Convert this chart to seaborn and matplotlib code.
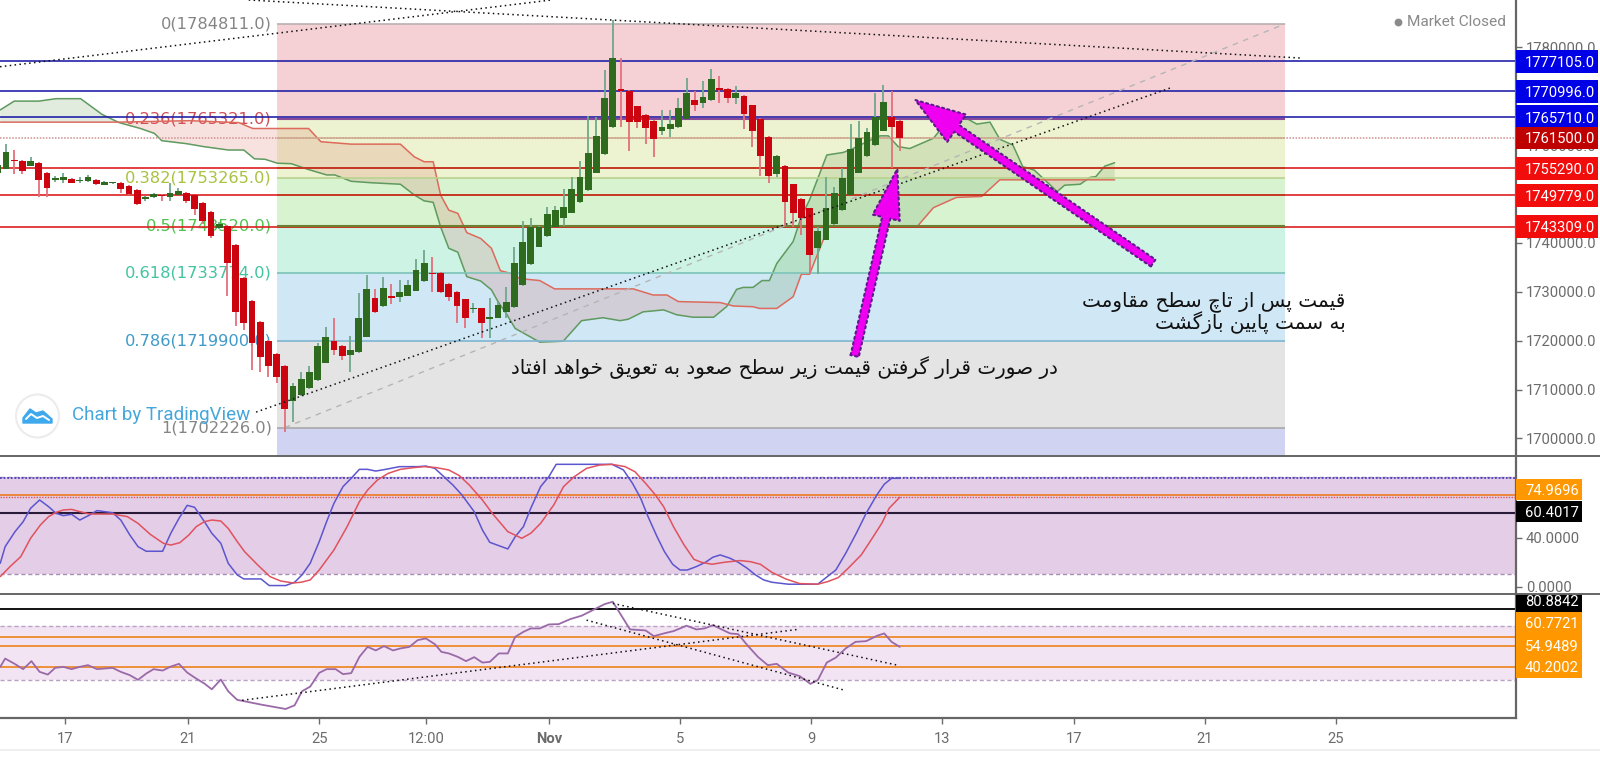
import numpy as np
import pandas as pd
import matplotlib
matplotlib.use("Agg")
import matplotlib.pyplot as plt
import seaborn as sns
from matplotlib.patches import Rectangle, Circle, FancyArrowPatch, Polygon
from matplotlib.transforms import blended_transform_factory

# candles, thousands of price units, index -1 .. 109
candle_idx = list(range(-1, 110))
opens = [1754.4,1755.2,1757.0,1756.8,1755.8,1756.3,1754.4,1752.8,1752.9,1753.1,1752.7,1752.7,1752.9,1751.9,1752.2,1752.3,1751.7,1750.8,1749.0,1749.3,
         1749.7,1749.4,1749.9,1750.3,1749.7,1748.2,1746.3,1743.0,1743.5,1739.6,1732.8,1728.2,1723.9,1720.0,1717.3,1714.9,1707.6,1708.8,1710.3,1712.0,
         1715.5,1720.0,1719.0,1717.1,1717.6,1720.8,1728.8,1727.1,1729.1,1729.0,1729.2,1730.2,1732.2,1733.9,1733.9,1731.6,1730.0,1728.5,1726.4,1726.6,
         1724.4,1724.7,1725.9,1726.8,1731.4,1735.7,1739.2,1741.4,1743.3,1745.1,1746.2,1748.4,1750.8,1754.4,1758.1,1763.8,1771.4,1771.1,1767.9,1766.2,
         1765.0,1762.9,1763.3,1763.8,1765.4,1769.3,1768.7,1769.2,1771.75,1771.4,1769.7,1770.1,1768.2,1765.3,1761.7,1754.1,1755.8,1752.0,1749.0,1747.1,
         1738.9,1740.6,1743.8,1746.7,1749.9,1754.4,1757.8,1760.0,1762.96,1765.7,1765.0]
highs = [1756.3,1760.2,1759.0,1757.0,1757.5,1756.6,1754.6,1753.7,1754.4,1753.2,1753.5,1753.9,1753.1,1752.7,1752.5,1752.4,1751.8,1750.96,1749.6,1750.3,
         1750.1,1752.2,1751.3,1750.5,1749.8,1748.4,1746.5,1744.3,1743.7,1739.7,1732.96,1728.3,1724.0,1720.2,1717.4,1715.0,1711.3,1713.7,1714.8,1719.5,
         1722.9,1724.6,1719.1,1721.0,1729.8,1733.4,1730.5,1732.96,1731.6,1732.5,1732.5,1736.8,1738.5,1737.1,1734.1,1731.7,1730.2,1728.6,1727.8,1726.7,
         1728.7,1728.0,1730.9,1739.1,1744.5,1745.0,1743.5,1747.4,1747.5,1750.96,1753.55,1756.75,1766.0,1765.7,1775.4,1785.6,1777.75,1771.3,1768.0,1766.4,
         1765.1,1767.2,1767.2,1769.7,1773.8,1771.1,1773.2,1775.6,1774.1,1771.6,1772.1,1770.25,1768.3,1765.5,1761.9,1757.9,1755.9,1752.1,1749.1,1747.2,
         1743.2,1753.55,1751.5,1755.4,1764.25,1765.0,1763.6,1770.7,1772.2,1771.1,1765.1]
lows = [1754.2,1755.2,1754.1,1754.1,1755.7,1749.3,1749.3,1752.5,1752.3,1752.2,1752.2,1752.5,1751.9,1751.8,1752.0,1750.3,1749.9,1747.8,1748.6,1749.2,
        1748.6,1748.6,1749.7,1748.2,1745.7,1743.9,1741.1,1742.8,1729.1,1723.0,1722.2,1714.0,1713.7,1712.6,1711.3,1701.4,1703.4,1708.7,1710.2,1711.8,
        1715.4,1717.1,1716.1,1713.5,1717.4,1720.7,1725.6,1726.97,1727.5,1727.9,1729.1,1730.1,1732.1,1730.0,1729.8,1728.2,1723.7,1722.5,1725.6,1720.5,
        1720.5,1724.6,1724.6,1726.6,1731.2,1735.5,1739.1,1741.3,1743.3,1743.5,1746.05,1748.2,1750.7,1754.2,1758.0,1763.6,1763.8,1758.7,1763.6,1760.2,
        1757.6,1762.1,1761.6,1763.6,1765.3,1767.05,1767.5,1769.1,1768.7,1768.7,1768.4,1763.2,1759.7,1753.7,1752.2,1753.4,1743.5,1743.3,1741.6,1733.6,
        1733.6,1740.5,1743.7,1746.6,1749.7,1754.2,1757.6,1759.9,1762.8,1755.25,1758.7]
closes = [1755.9,1758.5,1756.7,1754.7,1756.8,1752.8,1751.2,1753.2,1753.5,1752.3,1752.9,1753.5,1752.1,1752.5,1752.4,1751.0,1750.1,1748.0,1749.3,1750.1,
          1749.5,1750.3,1750.6,1748.5,1746.9,1744.5,1741.4,1743.9,1735.8,1725.9,1723.7,1719.6,1716.6,1714.8,1712.5,1706.1,1710.7,1712.1,1713.5,1718.9,
          1720.7,1718.1,1716.9,1718.1,1724.6,1730.5,1725.8,1730.7,1728.8,1729.9,1731.3,1734.5,1735.8,1733.6,1730.0,1728.9,1727.0,1724.7,1726.6,1723.7,
          1724.9,1727.4,1728.0,1735.8,1740.1,1743.3,1743.3,1746.0,1746.7,1747.3,1751.0,1753.5,1758.3,1761.9,1769.7,1777.8,1771.0,1764.7,1764.7,1763.6,
          1761.25,1763.7,1764.25,1767.5,1770.7,1768.2,1769.9,1773.45,1771.3,1769.6,1770.7,1766.3,1762.9,1757.8,1753.7,1757.8,1748.4,1746.05,1745.0,1737.5,
          1742.4,1747.2,1750.2,1753.2,1759.3,1761.5,1762.7,1765.8,1768.8,1763.8,1761.5]

# ichimoku cloud edges
span_a_idx = [-0.7,1.0,4.0,6.1,9.1,11.7,13.8,16.4,18.1,19.0,22.0,24.1,27.1,29.0,30.3,31.6,33.1,34.8,36.9,39.1,40.1,42.1,44.6,48.1,49.8,51.0,52.1,53.0,54.0,55.1,56.2,57.9,59.2,60.0,61.1,62.1,65.1,67.96,70.2,72.8,74.9,75.9,77.7,80.2,81.8,83.8,86.3,87.9,89.1,89.9,91.1,92.2,93.1,94.0,96.0,97.0,98.0,100.1,102.1,103.3,105.0,106.6,107.6,108.8,110.2,113.1,114.9,116.9,118.4,120.0,121.2,122.8,124.0,125.4,128.2,129.1,131.0,132.2,132.9,134.0,135.2]
span_a = [1767.2,1769.0,1769.0,1769.5,1769.5,1766.3,1764.6,1763.4,1762.4,1760.9,1760.3,1759.7,1759.0,1759.0,1757.2,1757.1,1756.3,1756.2,1755.0,1753.9,1753.9,1752.6,1752.3,1752.0,1749.8,1748.6,1748.3,1743.3,1738.9,1738.1,1733.1,1732.2,1730.4,1728.0,1725.3,1722.5,1719.7,1719.9,1724.1,1724.7,1724.1,1724.4,1725.9,1726.3,1725.3,1724.8,1724.8,1727.0,1730.5,1730.9,1730.9,1732.3,1732.3,1735.8,1740.3,1745.4,1748.8,1757.98,1758.5,1759.3,1760.7,1761.9,1761.9,1759.7,1759.3,1761.4,1765.1,1765.7,1764.3,1764.7,1761.2,1760.0,1755.6,1754.9,1750.5,1751.8,1752.0,1753.4,1753.55,1755.7,1756.4]
span_b_idx = [-0.7,13.8,22.4,28.4,30.1,36.9,38.4,42.1,48.1,49.8,51.0,52.1,53.0,54.0,55.1,56.2,57.9,59.2,60.3,61.5,62.7,65.1,66.9,76.5,78.9,80.6,82.0,87.1,88.7,91.1,91.9,94.0,96.0,97.0,98.0,100.3,111.1,113.1,115.9,119.0,121.2,135.2]
span_b = [1764.7,1764.7,1765.0,1764.6,1763.4,1763.4,1760.7,1760.2,1760.2,1757.6,1756.6,1756.6,1749.8,1746.7,1746.05,1742.1,1740.9,1738.9,1734.3,1733.8,1732.7,1732.3,1730.6,1730.6,1729.35,1729.35,1728.0,1727.8,1727.1,1726.95,1726.6,1726.6,1729.0,1733.6,1733.6,1743.3,1743.3,1747.2,1749.3,1749.5,1752.9,1752.9]

# stochastic
stoch_k_idx = [-0.7,-0.1,1.1,2.1,3.0,4.1,5.2,6.1,7.0,8.0,9.0,10.2,11.1,13.0,14.0,15.1,16.1,17.1,19.1,20.1,21.1,22.1,23.0,24.2,25.1,26.2,27.1,28.2,29.0,31.1,32.1,34.1,35.2,36.1,37.1,38.2,39.1,40.0,41.1,42.1,43.1,44.1,45.1,46.3,48.0,50.2,51.2,52.3,53.4,54.5,55.6,57.1,58.1,59.0,61.2,62.1,63.1,64.0,65.2,66.2,67.1,73.9,75.3,76.4,77.4,78.3,79.4,80.3,81.3,82.2,83.1,84.2,85.3,86.2,87.1,88.3,89.3,90.4,91.4,92.4,93.4,95.4,96.8,99.0,99.9,101.2,102.4,103.7,104.9,106.2,107.1,108.0,109.0]
stoch_k = [19.1,32.7,44.9,53.1,64.0,70.8,65.3,59.9,58.0,59.1,54.4,58.5,62.1,60.4,54.4,42.2,32.7,28.9,28.9,43.6,55.8,66.4,64.8,53.1,43.6,35.4,19.1,9.6,6.3,6.3,0.9,0.9,3.6,9.6,19.1,36.8,53.1,68.1,81.7,88.5,95.8,95.8,94.4,95.8,98.0,98.0,98.5,96.6,89.8,83.0,74.9,61.25,46.3,36.2,30.8,40.8,49.0,64.0,81.7,89.8,99.9,99.9,95.3,84.4,72.2,57.2,40.8,28.6,18.3,13.6,13.6,16.4,19.9,24.0,25.9,23.2,19.9,15.0,9.6,5.5,3.6,2.0,2.0,2.0,6.8,13.6,27.2,43.6,59.9,74.9,83.6,88.5,88.5]
stoch_d_idx = [-0.7,0.5,1.8,3.0,4.2,5.2,6.1,7.0,8.0,9.0,10.2,13.0,14.8,16.1,17.6,19.2,20.1,21.2,22.3,23.2,24.2,25.1,26.2,27.1,28.2,29.1,30.7,32.2,33.5,35.0,36.0,37.1,38.2,40.0,41.6,43.1,44.1,45.3,46.6,48.1,49.7,51.0,52.5,54.0,55.3,56.5,58.1,59.3,61.2,62.9,64.0,65.2,66.8,68.0,69.3,70.8,72.4,73.9,75.5,76.7,78.0,79.2,80.2,81.4,82.7,83.9,84.8,86.1,87.6,89.5,90.8,92.0,93.4,95.1,96.8,99.0,100.2,101.5,102.7,104.3,105.5,106.8,107.7,109.0]
stoch_d = [8.2,16.4,24.5,39.5,50.4,57.2,60.7,62.6,63.1,61.25,59.3,59.3,57.2,51.7,42.7,35.4,34.0,35.9,42.2,49.0,53.1,54.4,53.6,47.6,36.8,28.6,17.7,8.2,4.6,3.0,3.6,5.5,13.6,30.0,49.0,69.4,78.9,87.1,92.5,95.8,97.2,98.0,97.2,95.3,90.6,83.0,70.8,59.9,44.9,39.5,43.6,51.7,66.7,81.7,89.8,96.6,99.3,99.9,98.0,93.9,84.4,74.9,65.3,49.0,34.0,22.3,19.9,18.3,19.9,21.3,20.4,18.3,11.7,6.3,2.5,2.0,4.1,7.4,15.0,25.9,38.1,51.7,64.0,73.0]

# rsi
rsi_idx = [-0.7,-0.1,1.0,2.1,3.1,4.1,5.1,6.0,7.0,8.0,9.0,10.0,11.1,13.0,14.0,15.1,16.1,17.1,18.0,19.1,20.1,21.1,22.1,23.2,24.2,25.1,26.2,27.1,28.2,29.1,31.1,34.1,35.2,36.1,37.1,38.2,39.1,40.2,41.1,42.1,43.1,44.1,45.1,46.1,47.2,48.1,49.2,50.2,51.2,52.3,53.1,54.0,55.1,56.1,57.1,58.1,59.0,60.1,61.2,62.1,63.1,64.0,65.1,66.2,67.4,68.8,70.2,71.8,73.0,74.0,76.1,78.0,79.0,80.5,81.4,83.0,84.2,85.2,86.2,88.3,89.3,90.4,91.7,92.9,94.0,95.4,96.8,98.1,99.0,100.1,101.2,102.4,103.6,104.9,106.2,107.1,108.0,109.0]
rsi = [40.2,46.0,42.5,38.6,44.2,36.7,34.8,39.5,40.2,38.6,40.2,41.4,38.6,39.5,36.7,34.4,31.1,35.5,38.6,37.6,40.4,42.3,36.2,32.0,28.5,24.5,31.3,23.1,17.1,16.1,13.8,10.7,13.3,23.1,26.4,36.0,38.6,38.6,35.1,35.8,47.2,54.2,51.7,54.7,51.7,53.1,54.2,58.9,60.1,56.1,50.7,49.6,47.2,44.2,47.0,43.2,43.7,49.6,49.6,61.2,64.7,67.1,67.1,69.9,70.1,73.6,76.0,80.6,84.1,85.8,66.4,65.7,61.7,64.0,65.2,69.0,66.4,67.1,69.4,63.6,63.1,55.4,47.2,41.4,42.3,36.2,33.7,28.3,30.9,43.2,46.7,53.1,57.7,58.2,61.9,63.6,57.7,54.2]

# fibonacci retracement
fib_ratios = ["0", "0.236", "0.382", "0.5", "0.618", "0.786", "1"]
fib_levels = [1784811.0, 1765321.0, 1753265.0, 1743520.0, 1733774.0, 1719900.0, 1702226.0]
fib_text_colors = ["#858585", "#cf4d55", "#a9c23f", "#4fc24f", "#43c4a0", "#3f9ac9", "#858585"]
fib_line_colors = ["#b9b0b0", "#8a4a9a", "#b9d28f", "#6f7f30", "#7dc4b8", "#7fb5d0", "#a9a9a9"]
fib_fills = ["#f5d1d6", "#edf3d0", "#d7f3d0", "#cdf3e5", "#d0e7f5", "#e4e4e4", "#d1d3f3"]

resist_levels = [1777105.0, 1770996.0, 1765710.0]
support_levels = [1755290.0, 1749779.0, 1743309.0]
last_price = 1761500.0
price_ticks = [1700000, 1710000, 1720000, 1730000, 1740000, 1750000, 1760000, 1770000, 1780000]
hidden_ticks = [1750000, 1770000]  # fully behind the price tags

stoch_levels = [74.9696, 60.4017]
stoch_tag_pos = [79.5, 61.25]
rsi_levels = [80.8842, 60.7721, 54.9489, 40.2002]
rsi_tag_pos = [85.0, 71.06, 55.4, 40.2]

# drawing tool lines, (index, price)
trend_lines = [((-0.73, 1776030), (66.5, 1789680)),
               ((29.6, 1789680), (158.0, 1777800)),
               ((30.5, 1705400), (142.0, 1771700))]
rsi_trends = [((28.8, 16.8), (96.8, 66.6)), ((74.0, 84.6), (108.7, 41.4)), ((70.8, 72.9), (102.1, 24.1))]

date_pos = [7.2, 22.2, 38.2, 51.2, 66.2, 82.2, 98.2, 114.2, 130.2, 146.2, 162.2]
date_labels = ["17", "21", "25", "12:00", "Nov", "5", "9", "13", "17", "21", "25"]

note_center = "در صورت قرار گرفتن قیمت زیر سطح صعود به تعویق خواهد افتاد"
note_right = ["قیمت پس از تاچ سطح مقاومت", "به سمت پایین بازگشت"]

# (isolated, final, initial, medial) - matplotlib does no arabic shaping itself
FORMS = {"ا": "\uFE8D\uFE8E", "د": "\uFEA9\uFEAA", "ر": "\uFEAD\uFEAE", "ز": "\uFEAF\uFEB0", "و": "\uFEED\uFEEE",
         "ب": "\uFE8F\uFE90\uFE91\uFE92", "پ": "\uFB56\uFB57\uFB58\uFB59", "ت": "\uFE95\uFE96\uFE97\uFE98",
         "چ": "\uFB7A\uFB7B\uFB7C\uFB7D", "ح": "\uFEA1\uFEA2\uFEA3\uFEA4", "خ": "\uFEA5\uFEA6\uFEA7\uFEA8",
         "س": "\uFEB1\uFEB2\uFEB3\uFEB4", "ش": "\uFEB5\uFEB6\uFEB7\uFEB8", "ص": "\uFEB9\uFEBA\uFEBB\uFEBC",
         "ط": "\uFEC1\uFEC2\uFEC3\uFEC4", "ع": "\uFEC9\uFECA\uFECB\uFECC", "ف": "\uFED1\uFED2\uFED3\uFED4",
         "ق": "\uFED5\uFED6\uFED7\uFED8", "گ": "\uFB92\uFB93\uFB94\uFB95", "م": "\uFEE1\uFEE2\uFEE3\uFEE4",
         "ن": "\uFEE5\uFEE6\uFEE7\uFEE8", "ه": "\uFEE9\uFEEA\uFEEB\uFEEC", "ی": "\uFBFC\uFBFD\uFBFE\uFBFF"}


def shape(text):
    out = []
    for i, ch in enumerate(text):
        if ch not in FORMS:
            out.append(ch)
            continue
        prev = text[i - 1] if i > 0 else " "
        nxt = text[i + 1] if i + 1 < len(text) else " "
        join_prev = prev in FORMS and len(FORMS[prev]) == 4
        join_next = nxt in FORMS and len(FORMS[ch]) == 4
        f = FORMS[ch]
        if join_prev and join_next:
            out.append(f[3])
        elif join_prev:
            out.append(f[1])
        elif join_next:
            out.append(f[2])
        else:
            out.append(f[0])
    return "".join(out)[::-1]


sns.set_style("white")
plt.rcParams["font.family"] = ["Roboto", "DejaVu Sans"]

W, H = 1600, 757
fig = plt.figure(figsize=(W / 100, H / 100), dpi=100, facecolor="white")
ax = fig.add_axes([0, (H - 456) / H, 1516 / W, 456 / H])
ax_st = fig.add_axes([0, (H - 594) / H, 1516 / W, 138 / H])
ax_rs = fig.add_axes([0, (H - 718) / H, 1516 / W, 124 / H])

XLIM = (-0.73, 184.15)
GRAY = "#6b6b6b"
SPINE = "#666666"
FIB_X = (33.05, 156.0)


def tag(a, y, txt, color, h, text_y=None, width=82, fs=10.6):
    tr = blended_transform_factory(a.transAxes, a.transData)
    a.add_patch(Rectangle((1.0, y - h / 2), width / 1516, h, transform=tr, facecolor=color,
                          edgecolor="none", clip_on=False, zorder=10))
    a.text(1 + 9 / 1516, y if text_y is None else text_y, txt, transform=tr, color="white", fontsize=fs,
           va="center_baseline", ha="left", clip_on=False, zorder=11)


def line(a, xs, ys, color, lw=1.0, **kw):
    sns.lineplot(x=xs, y=ys, color=color, linewidth=lw, estimator=None, sort=False, errorbar=None, ax=a, **kw)


# ---- main pane
edges = fib_levels + [1696000.0]
for i in range(len(fib_fills)):
    ax.fill_between(FIB_X, edges[i + 1], edges[i], color=fib_fills[i], linewidth=0, zorder=0)
for ratio, lvl, tc in zip(fib_ratios, fib_levels, fib_text_colors):
    ax.annotate(f"{ratio}({lvl:.1f})", (FIB_X[0], lvl), xytext=(-3.6, 0), textcoords="offset points",
                ha="right", va="center", color=tc, fontsize=11.7, family="DejaVu Sans", zorder=1)

line(ax, [34.0, 156.0], [1702226, 1784811], "#b5b5b5", 1.0, linestyle=(0, (4, 4)))

a_x = np.array(span_a_idx)
b_x = np.array(span_b_idx)
a_y = np.array(span_a) * 1000
b_y = np.array(span_b) * 1000
# shading only, the two edges are read at different indexes
grid = np.union1d(a_x, b_x)
a_g = np.interp(grid, a_x, a_y)
b_g = np.interp(grid, b_x, b_y)
ax.fill_between(grid, a_g, b_g, where=a_g >= b_g, interpolate=True, color="#4f8a3c", alpha=0.17, linewidth=0, zorder=1.2)
ax.fill_between(grid, a_g, b_g, where=a_g <= b_g, interpolate=True, color="#d9534a", alpha=0.17, linewidth=0, zorder=1.2)
line(ax, span_a_idx, a_y, "#5f9a5f", 1.1, zorder=1.3)
line(ax, span_b_idx, b_y, "#dd6a5c", 1.1, zorder=1.3)

for lvl in resist_levels:
    ax.axhline(lvl, color="#2222a8", linewidth=1.2, zorder=1.4)
for lvl in support_levels:
    ax.axhline(lvl, color="#dd2020", linewidth=1.2, zorder=1.4)
    ax.hlines(lvl, *FIB_X, color="#c23a22", linewidth=1.2, zorder=1.45)
ax.axhline(last_price, color="#cf8f8f", linewidth=1.1, linestyle=(0, (1, 1)), zorder=1.4)
ax.hlines(last_price, *FIB_X, color="#cfa98f", linewidth=1.1, zorder=1.45)
# fib level rules sit over the horizontals, the 0.5 one hides the red line below it
for lvl, lc in zip(fib_levels, fib_line_colors):
    ax.hlines(lvl, *FIB_X, color=lc, linewidth=1.5 if lc in ("#8a4a9a", "#6f7f30") else 1.2, zorder=1.5)

df = pd.DataFrame({"idx": candle_idx, "open": opens, "high": highs, "low": lows, "close": closes})
df[["open", "high", "low", "close"]] *= 1000
df["up"] = df["close"] >= df["open"]
ax.vlines(df["idx"], df["low"], df["high"], colors=np.where(df["up"], "#6fa88c", "#e4707c"), linewidth=1.3, zorder=2)
ax.bar(df["idx"], (df["close"] - df["open"]).abs(), bottom=df[["open", "close"]].min(axis=1), width=0.84,
       color=np.where(df["up"], "#2f6b1f", "#cc0410"), linewidth=0, zorder=3)

for p0, p1 in trend_lines:
    line(ax, [p0[0], p1[0]], [p0[1], p1[1]], "#111111", 1.1, linestyle=(0, (1, 2.2)), zorder=4)

for tail, tip, hw, hl in [((103.5, 1716871), (108.7, 1755113), 20, 36), ((139.9, 1735889), (110.9, 1769223), 24, 36)]:
    ax.add_patch(FancyArrowPatch(tail, tip, arrowstyle=f"simple,head_width={hw},head_length={hl},tail_width=6",
                                 mutation_scale=1, shrinkA=0, shrinkB=0, facecolor="#f000f0", edgecolor="#5a1b8a",
                                 linewidth=1.5, linestyle=":", zorder=5))

ax.text(94.9, 1714417, shape(note_center), family="DejaVu Sans", fontsize=14.4, ha="center", va="center", color="#111111", zorder=6)
ax.text(163.4, 1727914, shape(note_right[0]), family="DejaVu Sans", fontsize=14.4, ha="right", va="center", color="#111111", zorder=6)
ax.text(163.4, 1723619, shape(note_right[1]), family="DejaVu Sans", fontsize=14.4, ha="right", va="center", color="#111111", zorder=6)

ax.set_xlim(*XLIM)
ax.set_ylim(1696420, 1789680)
ax.set_xticks([])
ax.yaxis.tick_right()
ax.set_yticks(price_ticks)
ax.set_yticklabels(["" if t in hidden_ticks else f"{t:.1f}" for t in price_ticks])
ax.tick_params(axis="y", right=True, length=4, width=1, color=GRAY, labelcolor=GRAY, labelsize=10.6, pad=3)

for lvl in resist_levels:
    tag(ax, lvl, f"{lvl:.1f}", "#0000e6", 4800)
tag(ax, last_price, f"{last_price:.1f}", "#bf0000", 4500)
for lvl in support_levels:
    tag(ax, lvl, f"{lvl:.1f}", "#f20d0d", 4700)

# ---- stochastic pane
ax_st.axhspan(10.4, 89.3, facecolor="#e4cde6", linewidth=0, zorder=0)
for v in [10.4, 89.3]:
    ax_st.axhline(v, color="#a78fb8", linewidth=1, linestyle=(0, (3, 2)), zorder=0.5)
ax_st.axhline(stoch_k[-1], color="#4a3fc0", linewidth=1.3, linestyle=(0, (1, 1)), zorder=1)
ax_st.axhline(stoch_d[-1], color="#d85a5a", linewidth=1, linestyle=(0, (1, 1)), zorder=1)
ax_st.axhline(stoch_levels[0], color="#ef7b22", linewidth=1.2, zorder=1)
ax_st.axhline(stoch_levels[1], color="#2a1a3a", linewidth=1.5, zorder=1)
line(ax_st, stoch_k_idx, stoch_k, "#5b55cf", 1.1, zorder=2)
line(ax_st, stoch_d_idx, stoch_d, "#e0525e", 1.1, zorder=2)
ax_st.set_xlim(*XLIM)
ax_st.set_ylim(-6, 106.7)
ax_st.set_xticks([])
ax_st.yaxis.tick_right()
ax_st.set_yticks([0, 40, 80])
ax_st.set_yticklabels(["0.0000", "40.0000", ""])
ax_st.tick_params(axis="y", right=True, length=4, width=1, color=GRAY, labelcolor=GRAY, labelsize=10.6, pad=3)
tag(ax_st, stoch_tag_pos[0], f"{stoch_levels[0]:.4f}", "#ff9800", 17.6, width=66)
tag(ax_st, stoch_tag_pos[1], f"{stoch_levels[1]:.4f}", "#000000", 17.6, width=66)

# ---- rsi pane
ax_rs.axhspan(31.1, 69.0, facecolor="#f3e4f3", linewidth=0, zorder=0)
for v in [31.1, 69.0]:
    ax_rs.axhline(v, color="#b9a3c4", linewidth=1, linestyle=(0, (3, 2)), zorder=0.5)
for i, v in enumerate(rsi_levels):
    ax_rs.axhline(v, color="#000000" if i == 0 else "#ef8a2a", linewidth=1.3, zorder=1)
line(ax_rs, rsi_idx, rsi, "#9a6aa8", 1.3, zorder=2)
for p0, p1 in rsi_trends:
    line(ax_rs, [p0[0], p1[0]], [p0[1], p1[1]], "#111111", 1.1, linestyle=(0, (1, 2.2)), zorder=3)
ax_rs.set_xlim(*XLIM)
ax_rs.set_ylim(4.4, 91.2)
ax_rs.set_yticks([])
ax_rs.set_xticks(date_pos)
ax_rs.set_xticklabels(date_labels)
ax_rs.tick_params(axis="x", bottom=True, length=4, width=1, color=GRAY, labelcolor=GRAY, labelsize=10.6, pad=6)
ax_rs.get_xticklabels()[date_labels.index("Nov")].set_fontweight("bold")
tag(ax_rs, rsi_tag_pos[0], f"{rsi_levels[0]:.4f}", "#000000", 12.4, text_y=87.0, width=66)
tag(ax_rs, rsi_tag_pos[1], f"{rsi_levels[1]:.4f}", "#ff9800", 15.4, width=66)
tag(ax_rs, rsi_tag_pos[2], f"{rsi_levels[2]:.4f}", "#ff9800", 15.8, width=66)
tag(ax_rs, rsi_tag_pos[3], f"{rsi_levels[3]:.4f}", "#ff9800", 15.4, width=66)

for a in (ax, ax_st, ax_rs):
    a.set_xlabel("")
    a.set_ylabel("")
    a.set_facecolor("white")
    for s in ("left", "top"):
        a.spines[s].set_visible(False)
    a.spines["bottom"].set_visible(False)
    a.spines["right"].set_color(SPINE)
    a.spines["right"].set_linewidth(1.6)
ax_rs.spines["bottom"].set_visible(True)
ax_rs.spines["bottom"].set_color(SPINE)
ax_rs.spines["bottom"].set_linewidth(1.6)

# ---- overlay in pixels: pane rules, watermark, status
ov = fig.add_axes([0, 0, 1, 1], zorder=20)
ov.set_xlim(0, W)
ov.set_ylim(H, 0)
ov.axis("off")
ov.patch.set_alpha(0)
ov.plot([0, W], [456, 456], color=SPINE, linewidth=1.4)
ov.plot([0, W], [594, 594], color=SPINE, linewidth=1.4)
ov.plot([0, W], [749.5, 749.5], color="#ececec", linewidth=1.2)

ov.add_patch(Circle((37.5, 416), 21.5, facecolor="white", edgecolor="#ececec", linewidth=1.5))
ov.add_patch(Polygon([(23, 423), (23, 418), (30, 409), (36, 413), (43, 411), (52, 419), (52, 423)], closed=True,
                     facecolor="#3fa9ee", edgecolor="#3fa9ee", linewidth=1, joinstyle="round"))
ov.plot([26, 31, 37, 43, 49], [419, 414, 418, 416, 420], color="white", linewidth=1.4)
ov.text(72.5, 415, "Chart by TradingView", color="#45a6dc", fontsize=13.5, ha="left", va="center")

ov.plot([1398], [22], marker="o", markersize=4.6, color="#8a8a8a")
ov.text(1407, 22, "Market Closed", color="#8a8a8a", fontsize=11.1, ha="left", va="center")

fig.savefig("out.png", dpi=100)
